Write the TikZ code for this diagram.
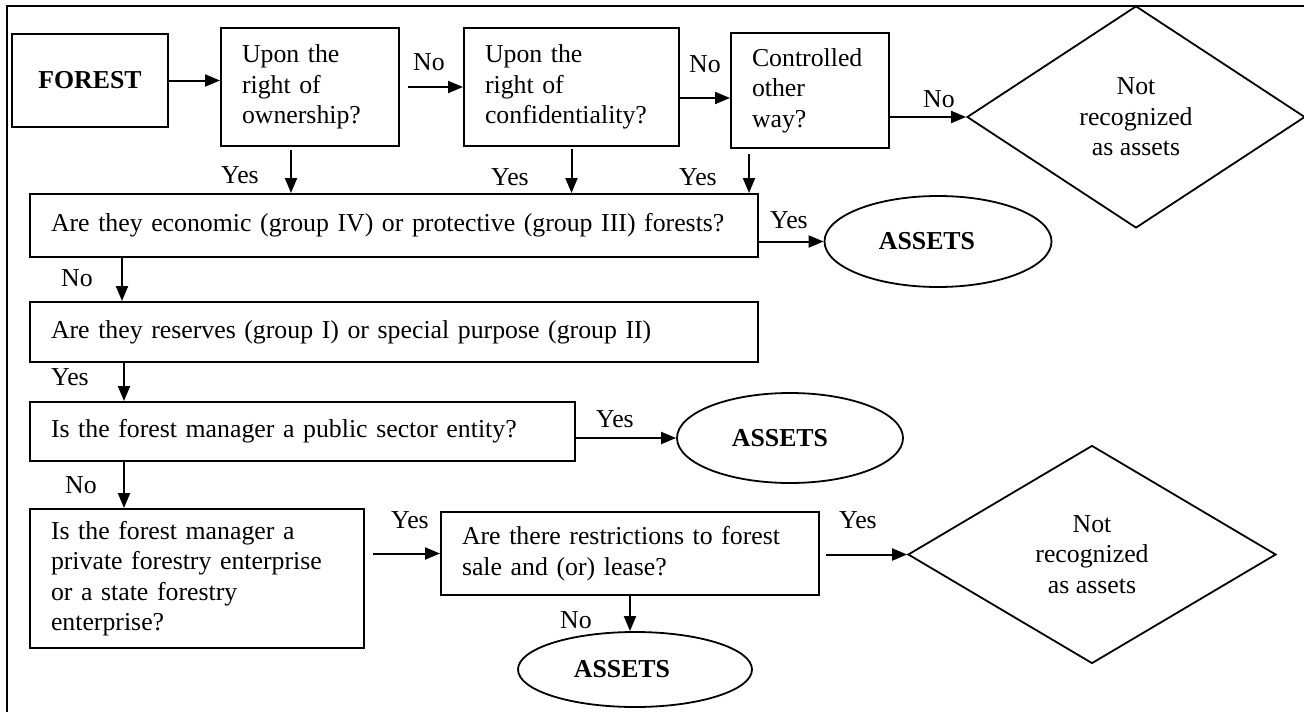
\documentclass[tikz,border=0pt]{standalone}
\usepackage{fontspec}
\setmainfont{Liberation Serif}
\usetikzlibrary{arrows.meta,shapes.geometric}
\newcommand{\txtsize}{\fontsize{25.8pt}{30.5pt}\selectfont}
\begin{document}
\begin{tikzpicture}[x=1pt,y=-1pt,
  every node/.style={font=\txtsize},
  qbox/.style={draw, line width=2pt, rectangle, inner xsep=21pt, inner ysep=0pt,
    align=left, anchor=north west},
  startbox/.style={draw, line width=2pt, rectangle, inner sep=0pt,
    anchor=north west, font=\txtsize\bfseries},
  endoval/.style={draw, line width=1.8pt, ellipse, inner sep=0pt},
  ovaltxt/.style={inner sep=0pt, font=\txtsize\bfseries},
  reject/.style={draw, line width=1.8pt, diamond, inner sep=0pt, align=center},
  lbl/.style={inner sep=0pt, anchor=base},
  arr/.style={line width=2pt, -{Triangle[length=15pt,width=12pt]}},
  frame/.style={line width=2pt}]

\useasboundingbox (0,0) rectangle (1304,712);
\fill[white] (0,0) rectangle (1304,712);

% outer frame (top and left edges)
\draw[frame] (7,712) -- (7,6) -- (1304,6);

% top row
\node[startbox, minimum width=156pt, minimum height=93pt] (forest) at (11,33) {FOREST};
\node[qbox, text width=136pt, minimum height=118pt] (b1) at (220,27) {Upon the\\right of\\ownership?};
\node[qbox, text width=173pt, minimum height=118pt] (b2) at (463,27) {Upon the\\right of\\confidentiality?};
\node[qbox, text width=116pt, minimum height=115pt] (b3) at (730,32) {Controlled\\other\\way?};
\node[reject, minimum width=338pt, minimum height=222pt] (d1) at (1136,117) {Not\\recognized\\as assets};

% group questions
\node[qbox, text width=686pt, minimum height=63pt] (A) at (29,193) {Are they economic (group IV) or protective (group III) forests?};
\node[endoval, minimum width=227pt, minimum height=91pt] (as1) at (938,241.5) {};
\node[ovaltxt] (as1t) at ([xshift=-11pt]as1.center) {ASSETS};
\node[qbox, text width=686pt, minimum height=60pt] (B) at (29,301) {Are they reserves (group I) or special purpose (group II)};

% manager questions
\node[qbox, text width=503pt, minimum height=59pt] (C) at (29,401) {Is the forest manager a public sector entity?};
\node[endoval, minimum width=226pt, minimum height=90pt] (as2) at (790,438) {};
\node[ovaltxt] (as2t) at ([xshift=-10pt]as2.center) {ASSETS};
\node[qbox, text width=292pt, minimum height=139pt] (D) at (29,508) {Is the forest manager a\\private forestry enterprise\\or a state forestry\\enterprise?};
\node[qbox, text width=336pt, minimum height=83pt] (E) at (440,511) {Are there restrictions to forest\\sale and (or) lease?};
\node[endoval, minimum width=234pt, minimum height=75pt] (as3) at (635,669.5) {};
\node[ovaltxt] (as3t) at ([xshift=-13pt]as3.center) {ASSETS};
\node[reject, minimum width=368pt, minimum height=218pt] (d2) at (1092,554.5) {Not\\recognized\\as assets};

% connectors
\draw[arr] (forest.east) -- (forest.east -| b1.west);
\draw[arr] ([xshift=8pt]b1.east) -- (b2.west);
\draw[arr] ([yshift=-11pt]b2.east) -- ([yshift=-11pt]b2.east -| b3.west);
\draw[arr] (b3.east |- d1.west) -- (d1.west);
\draw[arr] ([xshift=-19pt,yshift=-3pt]b1.south) -- ([xshift=-19pt]b1.south |- A.north);
\draw[arr] ([yshift=-2pt]b2.south) -- (b2.south |- A.north);
\draw[arr] ([xshift=-61pt,yshift=-5pt]b3.south) -- ([xshift=-61pt]b3.south |- A.north);
\draw[arr] (A.east |- as1.west) -- (as1.west);
\draw[arr] ([xshift=93pt]A.south west) -- ([xshift=93pt]B.north west);
\draw[arr] ([xshift=95pt]B.south west) -- ([xshift=95pt]C.north west);
\draw[arr] (C.east |- as2.west) -- (as2.west);
\draw[arr] ([xshift=95pt]C.south west) -- ([xshift=95pt]D.north west);
\draw[arr] ([xshift=8pt]D.east |- E.west) -- (E.west);
\draw[arr] (E.south) -- (E.south |- as3.north);
\draw[arr] ([xshift=6pt]E.east |- d2.west) -- (d2.west);

% connector labels
\node[lbl] (n1) at (429,70) {No};
\node[lbl] (n2) at (705,72) {No};
\node[lbl] (n3) at (939,107) {No};
\node[lbl] (y1) at (240,183) {Yes};
\node[lbl] (y2) at (510,185) {Yes};
\node[lbl] (y3) at (698,185) {Yes};
\node[lbl] (y4) at (789,228) {Yes};
\node[lbl] (n4) at (77,286) {No};
\node[lbl] (y5) at (70,385) {Yes};
\node[lbl] (y6) at (615,427) {Yes};
\node[lbl] (n5) at (81,493) {No};
\node[lbl] (y7) at (410,528) {Yes};
\node[lbl] (n6) at (576,628) {No};
\node[lbl] (y8) at (858,528) {Yes};
\end{tikzpicture}
\end{document}
